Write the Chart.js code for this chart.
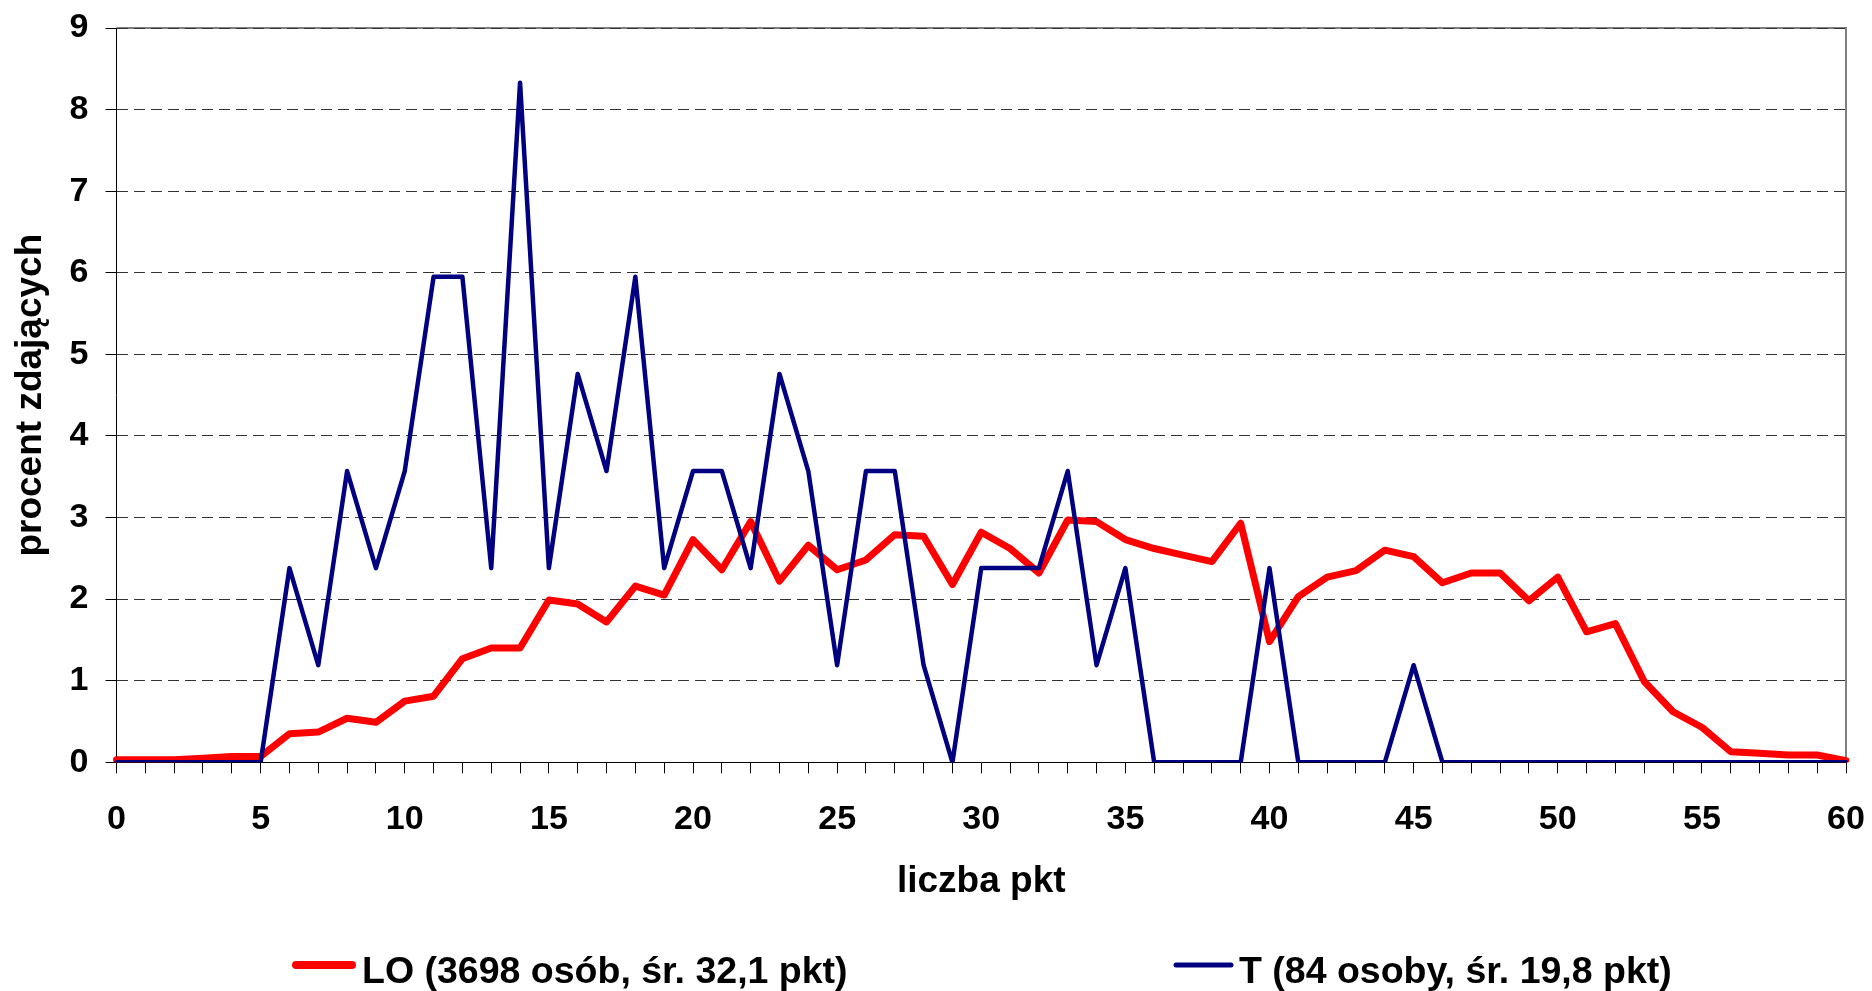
<!DOCTYPE html>
<html>
<head>
<meta charset="utf-8">
<script src="https://cdn.jsdelivr.net/npm/chart.js@4.4.1/dist/chart.umd.min.js"></script>
<style>
  html, body { margin: 0; padding: 0; background: #fff; }
  #wrap { position: relative; width: 1872px; height: 991px; }
</style>
</head>
<body>
<div id="wrap"><canvas id="chart"></canvas></div>
<script>
const points = ["0","1","2","3","4","5","6","7","8","9","10","11","12","13","14","15","16","17","18","19","20",
  "21","22","23","24","25","26","27","28","29","30","31","32","33","34","35","36","37","38","39","40",
  "41","42","43","44","45","46","47","48","49","50","51","52","53","54","55","56","57","58","59","60"];

const loLabel = "LO (3698 osób, śr. 32,1 pkt)";
const loValues = [0.03,0.03,0.03,0.05,0.07,0.07,0.35,0.37,0.54,0.49,0.75,0.81,1.27,1.40,1.40,1.99,1.94,1.72,2.16,2.05,2.73,
  2.36,2.95,2.22,2.66,2.36,2.48,2.79,2.77,2.18,2.82,2.62,2.32,2.97,2.95,2.73,2.62,2.54,2.46,2.93,1.48,
  2.03,2.27,2.35,2.60,2.52,2.20,2.32,2.32,1.98,2.27,1.60,1.70,0.99,0.62,0.43,0.13,0.11,0.09,0.09,0.02];

const tLabel = "T (84 osoby, śr. 19,8 pkt)";
const tValues = [0,0,0,0,0,0,2.38,1.19,3.57,2.38,3.57,5.95,5.95,2.38,8.33,2.38,4.76,3.57,5.95,2.38,3.57,
  3.57,2.38,4.76,3.57,1.19,3.57,3.57,1.19,0,2.38,2.38,2.38,3.57,1.19,2.38,0,0,0,0,2.38,
  0,0,0,0,1.19,0,0,0,0,0,0,0,0,0,0,0,0,0,0,0];

const xTitle = "liczba pkt";
const yTitle = "procent zdających";

const FONT = "'Liberation Sans', Arial, sans-serif";

// gray frame on top and right of the plot area, like the excel original
const frame = {
  id: "frame",
  beforeDraw(chart) {
    const {ctx, chartArea: a} = chart;
    ctx.save();
    ctx.strokeStyle = "#808080";
    ctx.lineWidth = 2;
    ctx.beginPath();
    ctx.moveTo(a.left, a.top);
    ctx.lineTo(a.right, a.top);
    ctx.lineTo(a.right, a.bottom);
    ctx.stroke();
    ctx.restore();
  }
};

// legend spread out along the bottom
const bottomLegend = {
  id: "bottomLegend",
  afterDraw(chart) {
    const ctx = chart.ctx;
    const spots = [{x: 296, w: 56, text: 362}, {x: 1176, w: 55, text: 1239}];
    ctx.save();
    ctx.font = "bold 37.5px " + FONT;
    ctx.textBaseline = "alphabetic";
    chart.data.datasets.forEach((ds, i) => {
      const s = spots[i];
      ctx.strokeStyle = ds.borderColor;
      ctx.lineWidth = ds.legendWidth;
      ctx.lineCap = "round";
      ctx.beginPath();
      ctx.moveTo(s.x, 965);
      ctx.lineTo(s.x + s.w, 965);
      ctx.stroke();
      ctx.fillStyle = "#000";
      ctx.fillText(ds.label, s.text, 983);
    });
    ctx.restore();
  }
};

new Chart(document.getElementById("chart"), {
  type: "line",
  data: {
    labels: points,
    datasets: [
      {label: loLabel, data: loValues, borderColor: "#ff0000", borderWidth: 7, legendWidth: 8, order: 1},
      {label: tLabel, data: tValues, borderColor: "#000080", borderWidth: 4.5, legendWidth: 5, order: 0}
    ]
  },
  options: {
    responsive: true,
    maintainAspectRatio: false,
    animation: false,
    layout: {padding: {left: 0, right: 26, top: 28, bottom: 86.7}},
    elements: {
      point: {radius: 0, hoverRadius: 0},
      line: {tension: 0, borderJoinStyle: "round", borderCapStyle: "round"}
    },
    plugins: {legend: {display: false}, tooltip: {enabled: false}},
    scales: {
      x: {
        grid: {drawOnChartArea: false, tickLength: 11, tickColor: "#000"},
        border: {color: "#000", width: 1},
        ticks: {
          autoSkip: false, maxRotation: 0, padding: 26, color: "#000",
          font: {family: FONT, size: 34, weight: "bold"},
          callback(v) {
            const l = this.getLabelForValue(v);
            return Number(l) % 5 === 0 ? l : "";
          }
        },
        title: {display: true, text: xTitle, color: "#000", padding: 0,
          font: {family: FONT, size: 37, weight: "bold"}},
        afterFit(s) {
          s.height = 142;
          s.paddingLeft = 0;
          s.paddingRight = 0;
        }
      },
      y: {
        min: 0, max: 9,
        grid: {color: "#333", tickLength: 11, tickColor: "#000", lineWidth: 1},
        border: {color: "#000", width: 1, dash: [11, 6]},
        ticks: {stepSize: 1, padding: 17, color: "#000",
          font: {family: FONT, size: 34, weight: "bold"}},
        title: {display: true, text: yTitle, color: "#000", padding: {top: 9, bottom: 0},
          font: {family: FONT, size: 37, weight: "bold"}},
        afterFit(s) {
          s.width = 116.5;
          s.paddingTop = 0;
          s.paddingBottom = 0;
        }
      }
    }
  },
  plugins: [frame, bottomLegend]
});
</script>
</body>
</html>
